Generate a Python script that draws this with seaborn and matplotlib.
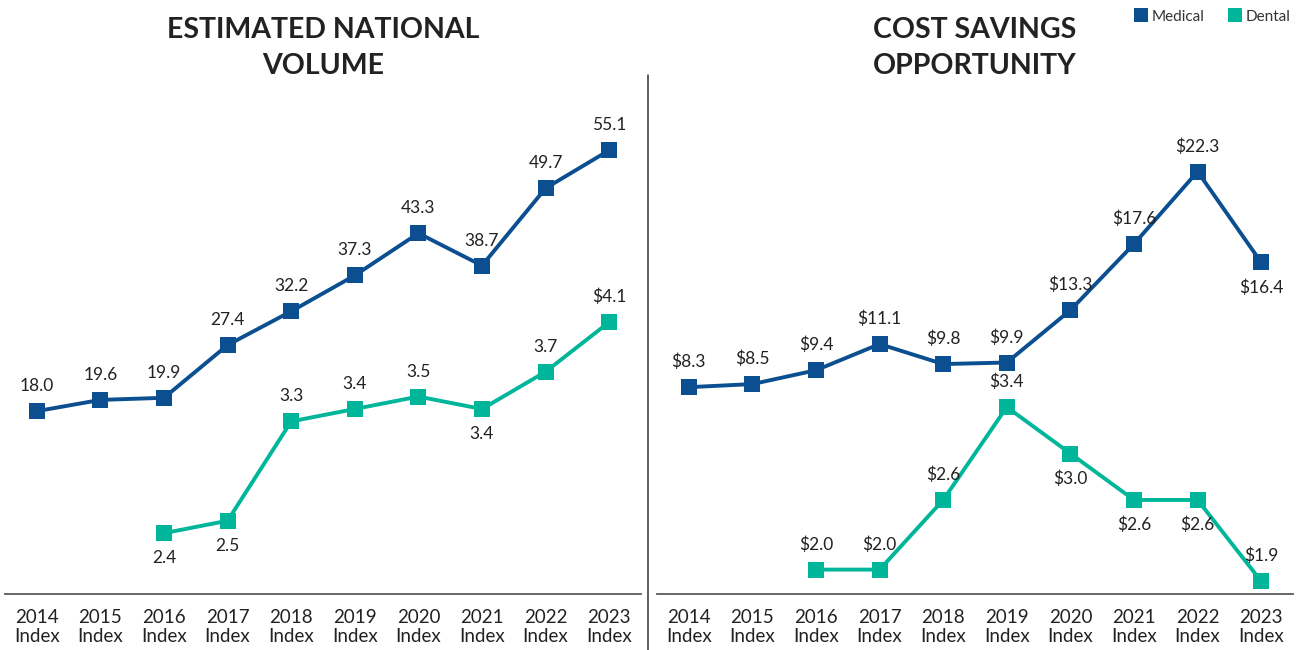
import matplotlib
matplotlib.use("Agg")
import matplotlib.pyplot as plt
from matplotlib.lines import Line2D
import numpy as np
import pandas as pd
import seaborn as sns

# ---- data -------------------------------------------------------------
years = ["2014", "2015", "2016", "2017", "2018", "2019", "2020", "2021", "2022", "2023"]
tick_labels = [f"{y}\nIndex" for y in years]

volume_medical = [18.0, 19.6, 19.9, 27.4, 32.2, 37.3, 43.3, 38.7, 49.7, 55.1]
volume_dental = [np.nan, np.nan, 2.4, 2.5, 3.3, 3.4, 3.5, 3.4, 3.7, 4.1]
volume_medical_labels = ["18.0", "19.6", "19.9", "27.4", "32.2", "37.3", "43.3", "38.7", "49.7", "55.1"]
volume_dental_labels = [None, None, "2.4", "2.5", "3.3", "3.4", "3.5", "3.4", "3.7", "$4.1"]
volume_medical_side = [1, 1, 1, 1, 1, 1, 1, 1, 1, 1]
volume_dental_side = [0, 0, -1, -1, 1, 1, 1, -1, 1, 1]

savings_medical = [8.3, 8.5, 9.4, 11.1, 9.8, 9.9, 13.3, 17.6, 22.3, 16.4]
savings_dental = [np.nan, np.nan, 2.0, 2.0, 2.6, 3.4, 3.0, 2.6, 2.6, 1.9]
savings_medical_side = [1, 1, 1, 1, 1, 1, 1, 1, 1, -1]
savings_dental_side = [0, 0, 1, 1, 1, 1, -1, -1, -1, 1]

MEDICAL = "#0B4F91"
DENTAL = "#00B69A"
TEXT = "#222222"
GRID = "#5a5a5a"

sns.set_theme(style="white")
plt.rcParams["font.family"] = ["Lato", "DejaVu Sans"]

W, H = 1312, 650
fig = plt.figure(figsize=(W / 100, H / 100), dpi=100)


def fig_rect(x0, x1, y_top, y_bottom):
    return [x0 / W, (H - y_bottom) / H, (x1 - x0) / W, (y_bottom - y_top) / H]


def draw_panel(rect, title, med, den, med_lim, den_lim, med_side, den_side,
               med_fmt, den_labels=None):
    ax = fig.add_axes(rect)
    ax2 = ax.twinx()
    pos = np.arange(len(years))
    df = pd.DataFrame({"pos": pos, "medical": med, "dental": den})

    sns.lineplot(data=df, x="pos", y="medical", ax=ax, color=MEDICAL, lw=2.8,
                 marker="s", markersize=11, markeredgewidth=0, zorder=3)
    sns.lineplot(data=df.dropna(), x="pos", y="dental", ax=ax2, color=DENTAL, lw=2.8,
                 marker="s", markersize=11, markeredgewidth=0, zorder=3)

    ax.set_ylim(*med_lim)
    ax2.set_ylim(*den_lim)
    ax.set_xlim(-0.5, len(years) - 0.5)

    for a in (ax, ax2):
        a.set_ylabel("")
        a.set_xlabel("")
        a.set_yticks([])
        for s in ("top", "left", "right"):
            a.spines[s].set_visible(False)
        a.patch.set_visible(False)
    ax2.spines["bottom"].set_visible(False)
    ax.spines["bottom"].set_color(GRID)
    ax.spines["bottom"].set_linewidth(1.3)

    ax.set_xticks(pos)
    ax.set_xticklabels(tick_labels, fontsize=13.5, color=TEXT, linespacing=1.1)
    ax.set_xticks(pos[:-1] + 0.5, minor=True)
    ax.tick_params(axis="x", which="major", length=0, pad=11)
    ax.tick_params(axis="x", which="minor", length=41, width=1.1, color=GRID,
                   direction="out")

    for i, v in enumerate(med):
        ax.annotate(med_fmt[i], (pos[i], v), xytext=(0, 18 * med_side[i]),
                    textcoords="offset points", ha="center", va="center",
                    fontsize=12.5, color=TEXT)
    for i, v in enumerate(den):
        if np.isnan(v):
            continue
        ax2.annotate(den_labels[i], (pos[i], v), xytext=(0, 18 * den_side[i]),
                     textcoords="offset points", ha="center", va="center",
                     fontsize=12.5, color=TEXT)

    cx = rect[0] + rect[2] / 2
    fig.text(cx, 1 - 48 / H, title, ha="center", va="center", fontsize=20.5,
             fontweight="bold", color=TEXT, linespacing=1.45)
    return ax


draw_panel(fig_rect(5, 641, 75, 594), "ESTIMATED NATIONAL\nVOLUME",
           volume_medical, volume_dental, (-8.0, 65.8), (1.91, 6.09),
           volume_medical_side, volume_dental_side,
           volume_medical_labels, volume_dental_labels)

draw_panel(fig_rect(657, 1293, 75, 594), "COST SAVINGS\nOPPORTUNITY",
           savings_medical, savings_dental, (-5.13, 28.57), (1.79, 6.26),
           savings_medical_side, savings_dental_side,
           [f"${v:.1f}" for v in savings_medical],
           [None if np.isnan(v) else f"${v:.1f}" for v in savings_dental])

# divider between the two panels
fig.add_artist(Line2D([648 / W, 648 / W], [0, 1 - 75 / H], color="#333333", lw=1.1))

handles = [Line2D([], [], ls="none", marker="s", markersize=10, color=MEDICAL, mew=0),
           Line2D([], [], ls="none", marker="s", markersize=10, color=DENTAL, mew=0)]
fig.legend(handles, ["Medical", "Dental"], loc="upper right",
           bbox_to_anchor=(1 - 8 / W, 1 + 4 / H), ncol=2, frameon=False,
           fontsize=11, handlelength=0.8, handletextpad=0.3, columnspacing=1.6,
           labelcolor="#333333")

fig.savefig("out.png", dpi=100)
